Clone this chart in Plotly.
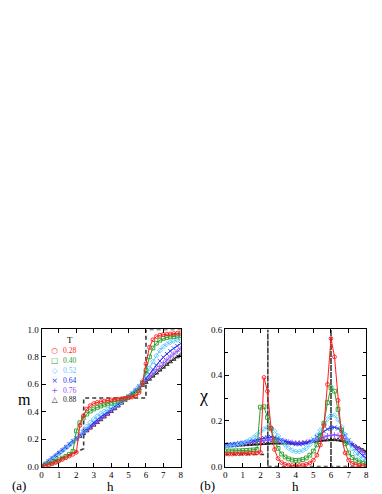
import plotly.graph_objects as go

# field grid (shared by every curve)
H = [0.0, 0.2, 0.4, 0.6, 0.8, 1.0, 1.2, 1.4, 1.6, 1.8,
     2.0, 2.2, 2.4, 2.6, 2.8, 3.0, 3.2, 3.4, 3.6, 3.8,
     4.0, 4.2, 4.4, 4.6, 4.8, 5.0, 5.2, 5.4, 5.6, 5.8,
     6.0, 6.2, 6.4, 6.6, 6.8, 7.0, 7.2, 7.4, 7.6, 7.8, 8.0]

TEMPS = ["0.28", "0.40", "0.52", "0.64", "0.76", "0.88"]

# magnetization m(h)
M_028 = [0.000, 0.005, 0.012, 0.020, 0.030, 0.042, 0.053, 0.065, 0.077, 0.090,
         0.105, 0.300, 0.370, 0.420, 0.445, 0.460, 0.468, 0.474, 0.478, 0.482,
         0.486, 0.489, 0.492, 0.495, 0.498, 0.502, 0.507, 0.515, 0.540, 0.610,
         0.750, 0.870, 0.925, 0.948, 0.958, 0.963, 0.966, 0.968, 0.970, 0.972, 0.974]
M_040 = [0.000, 0.008, 0.017, 0.027, 0.038, 0.050, 0.062, 0.075, 0.090, 0.110,
         0.260, 0.320, 0.355, 0.383, 0.405, 0.420, 0.432, 0.442, 0.450, 0.457,
         0.464, 0.471, 0.479, 0.487, 0.496, 0.506, 0.518, 0.533, 0.555, 0.610,
         0.700, 0.800, 0.865, 0.900, 0.922, 0.935, 0.942, 0.946, 0.949, 0.952, 0.955]
M_052 = [0.000, 0.018, 0.036, 0.055, 0.074, 0.094, 0.115, 0.136, 0.158, 0.181,
         0.205, 0.232, 0.262, 0.293, 0.322, 0.347, 0.368, 0.386, 0.402, 0.417,
         0.431, 0.445, 0.460, 0.476, 0.493, 0.512, 0.533, 0.557, 0.585, 0.625,
         0.670, 0.718, 0.765, 0.808, 0.847, 0.875, 0.893, 0.906, 0.916, 0.924, 0.930]
M_064 = [0.000, 0.020, 0.040, 0.060, 0.080, 0.100, 0.121, 0.142, 0.164, 0.186,
         0.208, 0.231, 0.254, 0.277, 0.300, 0.322, 0.343, 0.363, 0.382, 0.400,
         0.418, 0.436, 0.454, 0.473, 0.492, 0.512, 0.534, 0.558, 0.584, 0.612,
         0.642, 0.675, 0.708, 0.740, 0.770, 0.797, 0.822, 0.843, 0.862, 0.880, 0.897]
M_076 = [0.000, 0.020, 0.040, 0.060, 0.080, 0.100, 0.120, 0.141, 0.162, 0.183,
         0.204, 0.225, 0.246, 0.267, 0.288, 0.309, 0.330, 0.350, 0.370, 0.390,
         0.410, 0.429, 0.449, 0.469, 0.490, 0.511, 0.533, 0.556, 0.580, 0.604,
         0.629, 0.655, 0.681, 0.707, 0.732, 0.756, 0.778, 0.800, 0.821, 0.841, 0.860]
M_088 = [0.000, 0.020, 0.040, 0.060, 0.080, 0.100, 0.120, 0.140, 0.160, 0.180,
         0.200, 0.220, 0.240, 0.261, 0.281, 0.302, 0.322, 0.342, 0.362, 0.382,
         0.402, 0.422, 0.442, 0.463, 0.484, 0.505, 0.526, 0.548, 0.570, 0.592,
         0.614, 0.637, 0.660, 0.682, 0.704, 0.725, 0.745, 0.764, 0.782, 0.800, 0.817]

# susceptibility chi(h)
X_028 = [0.055, 0.055, 0.055, 0.056, 0.056, 0.057, 0.057, 0.058, 0.059, 0.060,
         0.062, 0.390, 0.330, 0.170, 0.075, 0.035, 0.018, 0.010, 0.007, 0.005,
         0.005, 0.005, 0.007, 0.010, 0.016, 0.028, 0.050, 0.095, 0.180, 0.360,
         0.560, 0.480, 0.290, 0.130, 0.060, 0.028, 0.014, 0.008, 0.005, 0.003, 0.002]
X_040 = [0.068, 0.068, 0.068, 0.069, 0.069, 0.070, 0.071, 0.072, 0.073, 0.075,
         0.260, 0.262, 0.215, 0.165, 0.115, 0.080, 0.055, 0.042, 0.034, 0.029,
         0.027, 0.028, 0.031, 0.038, 0.050, 0.068, 0.095, 0.135, 0.190, 0.280,
         0.345, 0.330, 0.250, 0.160, 0.100, 0.060, 0.040, 0.028, 0.020, 0.015, 0.011]
X_052 = [0.088, 0.089, 0.091, 0.094, 0.098, 0.103, 0.109, 0.117, 0.127, 0.139,
         0.152, 0.165, 0.172, 0.168, 0.155, 0.135, 0.113, 0.095, 0.081, 0.071,
         0.066, 0.066, 0.071, 0.081, 0.096, 0.115, 0.137, 0.160, 0.185, 0.208,
         0.224, 0.224, 0.205, 0.175, 0.140, 0.108, 0.080, 0.060, 0.045, 0.032, 0.022]
X_064 = [0.097, 0.098, 0.099, 0.101, 0.103, 0.105, 0.108, 0.111, 0.114, 0.118,
         0.122, 0.126, 0.129, 0.130, 0.128, 0.124, 0.118, 0.112, 0.106, 0.101,
         0.098, 0.097, 0.099, 0.103, 0.110, 0.119, 0.130, 0.142, 0.154, 0.164,
         0.170, 0.172, 0.167, 0.155, 0.137, 0.116, 0.096, 0.078, 0.062, 0.048, 0.037]
X_076 = [0.093, 0.094, 0.095, 0.097, 0.099, 0.101, 0.103, 0.105, 0.108, 0.110,
         0.113, 0.115, 0.117, 0.118, 0.118, 0.116, 0.114, 0.111, 0.108, 0.106,
         0.104, 0.104, 0.105, 0.107, 0.110, 0.114, 0.119, 0.124, 0.130, 0.135,
         0.138, 0.139, 0.137, 0.131, 0.122, 0.111, 0.099, 0.087, 0.075, 0.063, 0.052]
X_088 = [0.090, 0.091, 0.092, 0.093, 0.094, 0.095, 0.096, 0.097, 0.098, 0.099,
         0.100, 0.101, 0.102, 0.103, 0.103, 0.103, 0.103, 0.103, 0.103, 0.103,
         0.103, 0.104, 0.105, 0.106, 0.108, 0.110, 0.112, 0.114, 0.116, 0.117,
         0.118, 0.118, 0.117, 0.114, 0.109, 0.103, 0.096, 0.089, 0.081, 0.073, 0.065]

# T = 0 ground-state curves (dashed)
GS_H = [0.0, 2.42, 2.42, 6.0, 6.0, 8.0]
GS_M = [0.0, 0.13, 0.5, 0.5, 1.0, 1.0]
GS_XH = [0.0, 2.42, 2.42, 2.42, 2.42, 6.0, 6.0, 6.0, 6.0, 8.0]
GS_X = [0.053, 0.053, 0.0, 0.6, 0.0, 0.0, 0.6, 0.0, 0.0, 0.0]

M_ALL = [M_028, M_040, M_052, M_064, M_076, M_088]
X_ALL = [X_028, X_040, X_052, X_064, X_076, X_088]

COLORS = ["#FF1C1C", "#2E9E2E", "#5CC8FF", "#1E32F0", "#9A4CFF", "#1A1A1A"]
SYMBOLS = ["circle-open", "square-open", "diamond-open", "x-thin-open",
           "cross-thin-open", "triangle-up-open"]
LEGEND_GLYPHS = ["\u25CB", "\u25A1", "\u25C7", "\u00D7", "+", "\u25B3"]

SERIF = "Liberation Serif, Times New Roman, serif"
W, HT = 382, 494

fig = go.Figure()

dash_line = {"color": "#3A3A3A", "width": 1.6, "dash": "4px,3px"}
fig.add_trace(go.Scatter(x=GS_H, y=GS_M, mode="lines", xaxis="x", yaxis="y",
                         line=dash_line, showlegend=False, hoverinfo="skip"))
fig.add_trace(go.Scatter(x=GS_XH, y=GS_X, mode="lines", xaxis="x2", yaxis="y2",
                         line=dash_line, showlegend=False, hoverinfo="skip"))

for i in range(len(TEMPS) - 1, -1, -1):
    for xa, ya, ys in (("x", "y", M_ALL[i]), ("x2", "y2", X_ALL[i])):
        fig.add_trace(go.Scatter(
            x=H, y=ys, mode="lines+markers", xaxis=xa, yaxis=ya,
            line={"color": COLORS[i], "width": 1},
            marker={"symbol": SYMBOLS[i], "size": 3.8, "color": COLORS[i],
                    "line": {"color": COLORS[i], "width": 0.9}},
            name=f"T = {TEMPS[i]}", showlegend=False,
        ))

axis_common = dict(
    showline=True, linecolor="black", linewidth=1, mirror="ticks",
    ticks="inside", ticklen=4, tickwidth=1, tickcolor="black",
    showgrid=False, zeroline=False,
    tickfont={"family": SERIF, "size": 9, "color": "black"},
)

fig.update_layout(
    width=W, height=HT,
    paper_bgcolor="white", plot_bgcolor="white",
    margin={"l": 0, "r": 0, "t": 0, "b": 0},
    showlegend=False,
    xaxis=dict(domain=[32 / W, 173 / W], range=[0, 8], dtick=1, anchor="y", **axis_common),
    yaxis=dict(domain=[31 / HT, 171 / HT], range=[0, 1], dtick=0.2, tickformat=".1f",
               anchor="x", **axis_common),
    xaxis2=dict(domain=[218 / W, 361 / W], range=[0, 8], dtick=1, anchor="y2", **axis_common),
    yaxis2=dict(domain=[31 / HT, 171 / HT], range=[0, 0.6], dtick=0.2, tickformat=".1f",
                anchor="x2",
                minor={"dtick": 0.1, "ticks": "inside", "ticklen": 3, "tickcolor": "black"},
                **axis_common),
)


def label(text, x, y, size, color="black", xanchor="center", yanchor="middle", family=SERIF):
    fig.add_annotation(text=text, x=x / W, y=1 - y / HT, xref="paper", yref="paper",
                       showarrow=False, xanchor=xanchor, yanchor=yanchor, borderpad=0,
                       font={"family": family, "size": size, "color": color})


label("m", 15, 394, 16)
label("h", 102, 483.5, 13)
label("(a)", 9, 482, 13)
label("\u03c7", 196, 391, 18)
label("h", 289, 483.5, 13)
label("(b)", 200, 482, 13)

# legend block inside panel (a): one column of glyphs, one of values
label("T", 61, 334, 9)
glyph_col = "<br>".join(
    f"<span style='color:{COLORS[i]}'>{LEGEND_GLYPHS[i]}</span>" for i in range(len(TEMPS)))
value_col = "<br>".join(
    f"<span style='color:{COLORS[i]}'>{TEMPS[i]}</span>" for i in range(len(TEMPS)))
label(glyph_col, 45, 339, 7.6, xanchor="center", yanchor="top", family="DejaVu Sans")
label(value_col, 53, 339, 7.6, xanchor="left", yanchor="top")

fig.write_html("out.html")
